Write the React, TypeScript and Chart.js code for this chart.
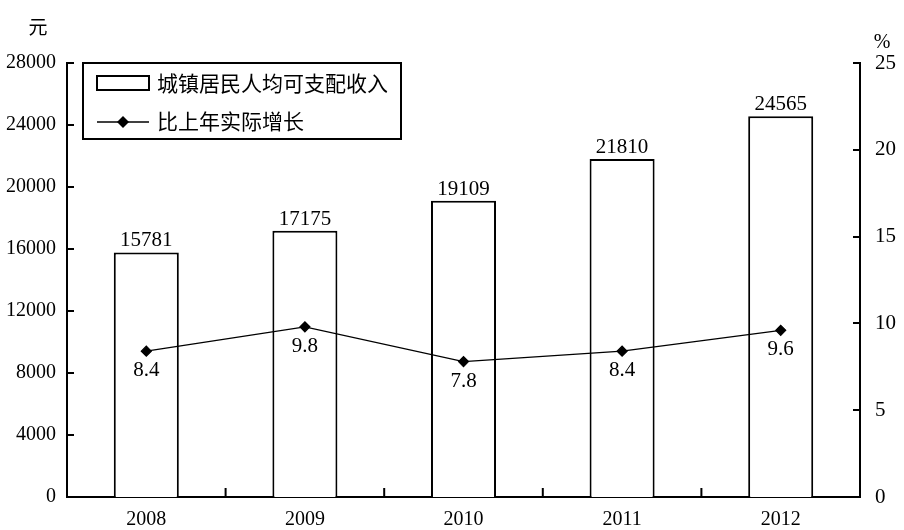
import React, { useEffect, useRef } from "react";
import { Chart, registerables } from "chart.js";

Chart.register(...registerables);

const years = ["2008", "2009", "2010", "2011", "2012"];
const income = [15781, 17175, 19109, 21810, 24565];
const growth = [8.4, 9.8, 7.8, 8.4, 9.6];
const leftTicks = [0, 4000, 8000, 12000, 16000, 20000, 24000, 28000];
const rightTicks = [0, 5, 10, 15, 20, 25];
const legendIncome = "城镇居民人均可支配收入";
const legendGrowth = "比上年实际增长";

const SERIF = "'Liberation Serif', 'Times New Roman', serif";
const CJK = "'Noto Sans CJK SC', sans-serif";

const overlay = {
  id: "overlay",
  afterDatasetsDraw(chart: any) {
    const ctx = chart.ctx;
    const { chartArea } = chart;
    const x = chart.scales.x;
    const yL = chart.scales.y;
    const yR = chart.scales.y1;
    ctx.save();
    ctx.strokeStyle = "#000";
    ctx.fillStyle = "#000";
    ctx.lineWidth = 2;
    ctx.beginPath();
    yL.ticks.forEach((t: any) => {
      const py = Math.round(yL.getPixelForValue(t.value));
      ctx.moveTo(chartArea.left, py);
      ctx.lineTo(chartArea.left + 7, py);
    });
    yR.ticks.forEach((t: any) => {
      const py = Math.round(yR.getPixelForValue(t.value));
      ctx.moveTo(chartArea.right, py);
      ctx.lineTo(chartArea.right - 7, py);
    });
    for (let i = 0; i < years.length - 1; i++) {
      const px = (x.getPixelForValue(i) + x.getPixelForValue(i + 1)) / 2;
      ctx.moveTo(px, chartArea.bottom);
      ctx.lineTo(px, chartArea.bottom - 9);
    }
    ctx.stroke();

    ctx.font = `21px ${SERIF}`;
    ctx.textAlign = "center";
    ctx.textBaseline = "bottom";
    const barMeta = chart.getDatasetMeta(0);
    barMeta.data.forEach((el: any, i: number) => {
      ctx.fillText(String(income[i]), el.x, el.y - 1);
    });
    ctx.textBaseline = "top";
    const lineMeta = chart.getDatasetMeta(1);
    lineMeta.data.forEach((el: any, i: number) => {
      ctx.fillText(growth[i].toFixed(1), el.x, el.y + 9);
    });

    ctx.font = `19px ${CJK}`;
    ctx.textBaseline = "middle";
    ctx.fillText("元", 38, 27);
    ctx.font = `20px ${SERIF}`;
    ctx.fillText("%", 882, 43);

    const lx = 83, ly = chartArea.top, lw = 318, lh = 76;
    ctx.fillStyle = "#fff";
    ctx.fillRect(lx, ly, lw, lh);
    ctx.lineWidth = 2;
    ctx.strokeStyle = "#000";
    ctx.strokeRect(lx, ly, lw, lh);
    ctx.strokeRect(97, 76, 52, 14);
    ctx.lineWidth = 1.5;
    ctx.beginPath();
    ctx.moveTo(97, 122);
    ctx.lineTo(149, 122);
    ctx.stroke();
    ctx.fillStyle = "#000";
    ctx.beginPath();
    ctx.moveTo(123, 116);
    ctx.lineTo(129, 122);
    ctx.lineTo(123, 128);
    ctx.lineTo(117, 122);
    ctx.closePath();
    ctx.fill();
    ctx.font = `21px ${CJK}`;
    ctx.textAlign = "left";
    ctx.textBaseline = "middle";
    ctx.fillText(legendIncome, 157, 83);
    ctx.fillText(legendGrowth, 157, 121);
    ctx.restore();
  },
};

export default function App() {
  const ref = useRef<HTMLCanvasElement>(null);
  useEffect(() => {
    document.body.style.margin = "0";
    const chart = new Chart(ref.current!, {
      data: {
        labels: years,
        datasets: [
          {
            type: "bar",
            label: legendIncome,
            data: income,
            backgroundColor: "#fff",
            borderColor: "#000",
            borderWidth: 2,
            yAxisID: "y",
            barPercentage: 0.41,
            categoryPercentage: 1,
            order: 2,
          },
          {
            type: "line",
            label: legendGrowth,
            data: growth,
            borderColor: "#000",
            borderWidth: 1.2,
            backgroundColor: "#000",
            pointStyle: "rectRot",
            pointRadius: 5,
            pointBackgroundColor: "#000",
            yAxisID: "y1",
            order: 1,
          },
        ],
      },
      options: {
        responsive: false,
        animation: false,
        layout: { padding: { top: 63, left: 0, right: 0, bottom: 0 } },
        plugins: { legend: { display: false }, tooltip: { enabled: false } },
        scales: {
          x: {
            offset: true,
            grid: { display: false },
            border: { color: "#000", width: 2 },
            ticks: { color: "#000", font: { family: SERIF, size: 20 }, padding: 3 },
            afterFit: (s: any) => { s.height = 33; },
          },
          y: {
            position: "left",
            min: 0,
            max: 28000,
            afterBuildTicks: (s: any) => { s.ticks = leftTicks.map((v) => ({ value: v })); },
            grid: { display: false },
            border: { color: "#000", width: 2 },
            ticks: {
              color: "#000",
              font: { family: SERIF, size: 20 },
              padding: 3,
              callback: (v: any) => String(v),
            },
            afterFit: (s: any) => { s.width = 67; },
          },
          y1: {
            position: "right",
            min: 0,
            max: 25,
            afterBuildTicks: (s: any) => { s.ticks = rightTicks.map((v) => ({ value: v })); },
            grid: { display: false },
            border: { color: "#000", width: 2 },
            ticks: {
              color: "#000",
              font: { family: SERIF, size: 21 },
              padding: 7,
              callback: (v: any) => String(v),
            },
            afterFit: (s: any) => { s.width = 44; },
          },
        },
      },
      plugins: [overlay],
    } as any);
    return () => chart.destroy();
  }, []);
  return <canvas ref={ref} width={904} height={530} style={{ display: "block" }} />;
}
